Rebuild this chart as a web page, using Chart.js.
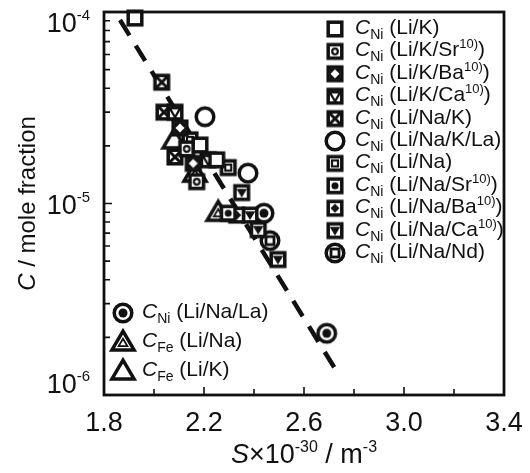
<!DOCTYPE html>
<html>
<head>
<meta charset="utf-8">
<script src="https://cdn.jsdelivr.net/npm/chart.js@4.4.1/dist/chart.umd.min.js"></script>
<style>html,body{margin:0;background:#fff}</style>
</head>
<body>
<canvas id="chart" width="530" height="473"></canvas>
<script>
const FONT = '"Liberation Sans", Arial, Helvetica, sans-serif';
const INK = '#111';

// axis ticks
const xTicks = [1.8, 2.2, 2.6, 3.0, 3.4];
const xMinor = [2.0, 2.4, 2.8, 3.2];
const yExp = [-4, -5, -6];

// series labels: element, system, footnote
const elem = ['Ni', 'Ni', 'Ni', 'Ni', 'Ni', 'Ni', 'Ni', 'Ni', 'Ni', 'Ni', 'Ni', 'Ni', 'Fe', 'Fe'];
const systems = ['Li/K', 'Li/K/Sr', 'Li/K/Ba', 'Li/K/Ca', 'Li/Na/K', 'Li/Na/K/La', 'Li/Na',
    'Li/Na/Sr', 'Li/Na/Ba', 'Li/Na/Ca', 'Li/Na/Nd', 'Li/Na/La', 'Li/Na', 'Li/K'];
const notes = ['', '10)', '10)', '10)', '', '', '', '10)', '10)', '10)', '', '', '', ''];

// S x 10^-30 (m^-3) and C (mole fraction) for each series
const sLiK = [1.924, 2.184, 2.251];
const cLiK = [9.3e-5, 2.02e-5, 1.69e-5];
const sLiKSr = [2.131, 2.171];
const cLiKSr = [1.93e-5, 1.30e-5];
const sLiKBa = [2.104, 2.157];
const cLiKBa = [2.48e-5, 1.62e-5];
const sLiKCa = [2.084, 2.217];
const cLiKCa = [3.0e-5, 1.69e-5];
const sLiNaK = [2.031, 2.040, 2.084];
const cLiNaK = [4.3e-5, 3.0e-5, 1.75e-5];
const sLiNaKLa = [2.204, 2.376];
const cLiNaKLa = [2.84e-5, 1.44e-5];
const sLiNa = [2.144, 2.297];
const cLiNa = [2.15e-5, 1.54e-5];
const sLiNaSr = [2.297];
const cLiNaSr = [8.9e-6];
const sLiNaBa = [2.331];
const cLiNaBa = [8.7e-6];
const sLiNaCa = [2.351, 2.384, 2.417, 2.496];
const cLiNaCa = [1.14e-5, 8.7e-6, 7.3e-6, 5.1e-6];
const sLiNaNd = [2.464];
const cLiNaNd = [6.4e-6];
const sLiNaLa = [2.440, 2.691];
const cLiNaLa = [8.9e-6, 2.1e-6];
const sFeLiNa = [2.164, 2.257];
const cFeLiNa = [1.44e-5, 9.0e-6];
const sFeLiK = [2.081];
const cFeLiK = [2.15e-5];

// dashed fit line end points
const fitS = [1.864, 2.74];
const fitC = [9.08e-5, 1.27e-6];

const seriesS = [sLiK, sLiKSr, sLiKBa, sLiKCa, sLiNaK, sLiNaKLa, sLiNa, sLiNaSr, sLiNaBa, sLiNaCa, sLiNaNd, sLiNaLa, sFeLiNa, sFeLiK];
const seriesC = [cLiK, cLiKSr, cLiKBa, cLiKCa, cLiNaK, cLiNaKLa, cLiNa, cLiNaSr, cLiNaBa, cLiNaCa, cLiNaNd, cLiNaLa, cFeLiNa, cFeLiK];
const markerKinds = ['sq', 'sqCirc', 'sqDiaOpen', 'sqTriOpen', 'sqX', 'circ', 'sqSq',
    'sqDot', 'sqDia', 'sqTri', 'circSq', 'circDot', 'triTri', 'tri'];

// build marker images
function makeMarker(kind) {
    const s = 28;
    const c = document.createElement('canvas');
    c.width = s; c.height = s;
    const g = c.getContext('2d');
    g.translate(s / 2, s / 2);
    g.lineWidth = 3.5;
    g.strokeStyle = INK;
    g.lineJoin = 'miter';
    const square = h => {
        g.fillStyle = '#fff';
        g.fillRect(-h, -h, 2 * h, 2 * h);
        g.strokeRect(-h, -h, 2 * h, 2 * h);
    };
    const circle = r => {
        g.beginPath(); g.arc(0, 0, r, 0, Math.PI * 2);
        g.fillStyle = '#fff'; g.fill(); g.stroke();
    };
    const tri = (h, dir) => {
        g.beginPath();
        g.moveTo(0, -dir * h * 0.6);
        g.lineTo(h * 0.62, dir * h * 0.45);
        g.lineTo(-h * 0.62, dir * h * 0.45);
        g.closePath();
    };
    if (kind.startsWith('sq')) square(6.8);
    if (kind.startsWith('circ')) circle(8.8);
    g.fillStyle = INK;
    switch (kind) {
        case 'sqCirc':
            g.lineWidth = 2.2; g.beginPath(); g.arc(0, 0, 2.8, 0, Math.PI * 2); g.stroke(); break;
        case 'sqDiaOpen':
            g.fillRect(-5, -5, 10, 10);
            g.fillStyle = '#fff';
            g.beginPath(); g.moveTo(0, -4.5); g.lineTo(4.5, 0); g.lineTo(0, 4.5); g.lineTo(-4.5, 0); g.closePath(); g.fill();
            break;
        case 'sqTriOpen':
            g.lineWidth = 2.2; tri(8.5, -1); g.stroke(); break;
        case 'sqX':
            g.lineWidth = 3;
            g.beginPath(); g.moveTo(-6, -6); g.lineTo(6, 6); g.moveTo(6, -6); g.lineTo(-6, 6); g.stroke();
            break;
        case 'sqSq':
            g.lineWidth = 2.2; g.strokeRect(-3, -3, 6, 6); break;
        case 'sqDot':
            g.beginPath(); g.arc(0, 0, 3.5, 0, Math.PI * 2); g.fill(); break;
        case 'sqDia':
            g.beginPath(); g.moveTo(0, -4.5); g.lineTo(4.5, 0); g.lineTo(0, 4.5); g.lineTo(-4.5, 0); g.closePath(); g.fill();
            break;
        case 'sqTri':
            tri(8.5, -1); g.fill(); break;
        case 'circSq':
            g.lineWidth = 2.8; g.strokeRect(-4, -4, 8, 8); break;
        case 'circDot':
            g.beginPath(); g.arc(0, 0, 4.5, 0, Math.PI * 2); g.fill(); break;
        case 'triTri':
        case 'tri':
            g.lineWidth = 3.5; tri(18, 1); g.fillStyle = '#fff'; g.fill(); g.stroke();
            if (kind === 'triTri') { g.lineWidth = 1.8; g.translate(0, 1); tri(7, 1); g.stroke(); }
            break;
    }
    return c;
}
const markers = markerKinds.map(makeMarker);

const datasets = seriesS.map((xs, i) => ({
    label: systems[i],
    data: xs.map((x, j) => ({ x: x, y: seriesC[i][j] })),
    pointStyle: markers[i],
    pointRadius: 10,
    clip: false,
    order: i
}));
datasets.push({
    type: 'line',
    label: 'fit',
    data: fitS.map((x, j) => ({ x: x, y: fitC[j] })),
    borderColor: INK,
    borderWidth: 4.5,
    borderDash: [18, 12],
    pointRadius: 0,
    fill: false,
    clip: false,
    order: 100
});

function drawRich(ctx, x, y, parts) {
    // parts: [text, size, dy, italic]
    let cx = x;
    parts.forEach(p => {
        ctx.font = (p[3] ? 'italic ' : '') + p[1] + 'px ' + FONT;
        ctx.fillText(p[0], cx, y + p[2]);
        cx += ctx.measureText(p[0]).width;
    });
    return cx - x;
}
function richWidth(ctx, parts) {
    let w = 0;
    parts.forEach(p => {
        ctx.font = (p[3] ? 'italic ' : '') + p[1] + 'px ' + FONT;
        w += ctx.measureText(p[0]).width;
    });
    return w;
}

const decorPlugin = {
    id: 'decor',
    afterDraw(chart) {
        const ctx = chart.ctx;
        const a = chart.chartArea;
        const xs = chart.scales.x, ys = chart.scales.y;
        ctx.save();
        ctx.strokeStyle = INK;
        ctx.fillStyle = INK;
        ctx.lineWidth = 2.8;
        ctx.strokeRect(a.left, a.top, a.right - a.left, a.bottom - a.top);

        // inward ticks
        ctx.lineWidth = 1.6;
        ctx.beginPath();
        xTicks.forEach(v => { const px = xs.getPixelForValue(v); ctx.moveTo(px, a.bottom); ctx.lineTo(px, a.bottom - 8); });
        xMinor.forEach(v => { const px = xs.getPixelForValue(v); ctx.moveTo(px, a.bottom); ctx.lineTo(px, a.bottom - 6); });
        for (let e = -6; e < -4; e++) {
            for (let m = 1; m <= 9; m++) {
                const py = ys.getPixelForValue(m * Math.pow(10, e));
                ctx.moveTo(a.left, py); ctx.lineTo(a.left + (m === 1 ? 8 : 6), py);
            }
        }
        ctx.stroke();

        // tick labels
        ctx.textBaseline = 'alphabetic';
        ctx.textAlign = 'center';
        ctx.font = '27px ' + FONT;
        xTicks.forEach(v => ctx.fillText(v.toFixed(1), xs.getPixelForValue(v), a.bottom + 36));
        ctx.textAlign = 'left';
        yExp.forEach(e => {
            const py = ys.getPixelForValue(Math.pow(10, e));
            const base = Math.min(Math.max(py + 10, a.top + 20), a.bottom - 2);
            const parts = [['10', 27, 0, false], [String(e), 15, -12, false]];
            const w = richWidth(ctx, parts);
            drawRich(ctx, a.left - 14 - w, base, parts);
        });

        // axis titles
        const xt = [['S', 27, 0, true], ['\u00d710', 27, 0, false], ['-30', 16, -11, false], [' / m', 27, 0, false], ['-3', 16, -11, false]];
        const xw = richWidth(ctx, xt);
        drawRich(ctx, (a.left + a.right) / 2 - xw / 2, a.bottom + 68, xt);
        ctx.save();
        ctx.translate(35, (a.top + a.bottom) / 2);
        ctx.rotate(-Math.PI / 2);
        const yt = [['C', 24, 0, true], [' / mole fraction', 24, 0, false]];
        const yw = richWidth(ctx, yt);
        drawRich(ctx, -yw / 2, 0, yt);
        ctx.restore();

        // legend
        seriesS.forEach((_, i) => {
            let ix, iy, tx;
            if (i < 11) { ix = a.left + 231; iy = a.top + 17 + i * 22.4; tx = a.left + 251; }
            else { ix = a.left + 19; iy = a.top + 301 + (i - 11) * 29; tx = a.left + 38; }
            const m = markers[i];
            ctx.drawImage(m, ix - m.width / 2, iy - m.height / 2);
            const parts = [['C', 21, 0, true], [elem[i], 14, 5, false], [' (' + systems[i], 21, 0, false]];
            if (notes[i]) parts.push([notes[i], 13, -8, false]);
            parts.push([')', 21, 0, false]);
            drawRich(ctx, tx, iy + 5, parts);
        });
        ctx.restore();
    }
};

new Chart(document.getElementById('chart'), {
    type: 'scatter',
    data: { datasets: datasets },
    options: {
        responsive: false,
        animation: false,
        layout: { padding: { left: 104, top: 12, right: 26, bottom: 78 } },
        plugins: { legend: { display: false }, tooltip: { enabled: false } },
        scales: {
            x: { type: 'linear', min: 1.8, max: 3.4, display: false },
            y: { type: 'logarithmic', min: 1e-6, max: 1e-4, display: false }
        }
    },
    plugins: [decorPlugin]
});
</script>
</body>
</html>
